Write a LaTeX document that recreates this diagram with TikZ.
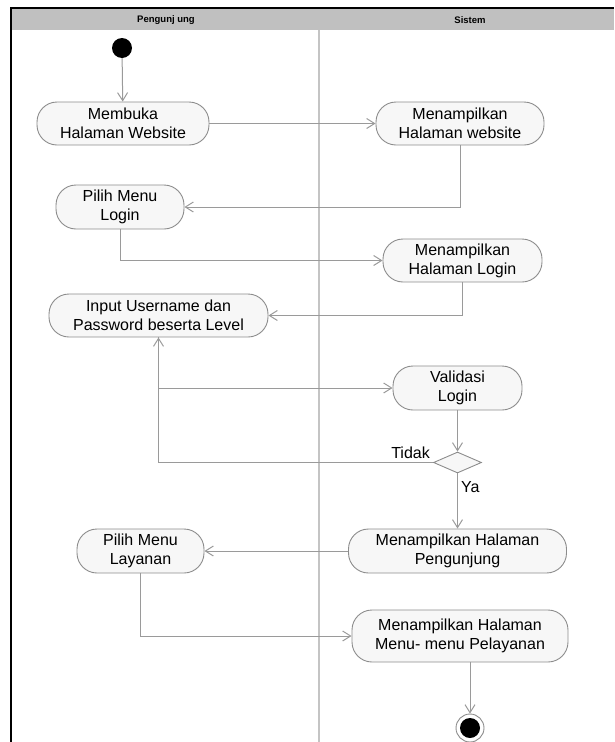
\documentclass[tikz,border=0pt]{standalone}
\usepackage{fontspec}
\setmainfont{Liberation Sans}
\usetikzlibrary{arrows.meta,shapes.geometric}
\definecolor{lanehead}{HTML}{C0C0C0}
\definecolor{edgegrey}{HTML}{9A9A9A}
\definecolor{boxline}{HTML}{8C8C8C}
\definecolor{boxfill}{HTML}{F7F7F7}
\definecolor{lanesep}{HTML}{C4C4C4}
\begin{document}
\begin{tikzpicture}[x=1pt,y=-1pt,
  act/.style={draw=boxline, fill=boxfill, line width=0.9pt, rounded corners=20pt,
    inner sep=0pt, align=center, font=\fontsize{16}{19}\selectfont},
  flow/.style={draw=edgegrey, line width=1pt, -{Straight Barb[length=8pt,width=10pt]}},
  lbl/.style={inner sep=0pt, font=\fontsize{16}{19}\selectfont},
  lanetitle/.style={inner sep=0pt, font=\fontsize{9.5}{11}\selectfont\bfseries}]
\useasboundingbox (0,0) rectangle (614,742);

% swimlane frame and headers
\fill[lanehead] (11,8) rectangle (614,30);
\draw[lanesep, line width=1.5pt] (319,30) -- (319,742);
\draw[black, line width=2.5pt] (11,742) -- (11,8) -- (614,8);
\node[lanetitle] (hpeng) at (166,20) {Pengunj ung};
\node[lanetitle] (hsis) at (470,20) {Sistem};

% activities
\node[fill=black, circle, minimum size=20pt, inner sep=0pt] (start) at (122,48) {};
\node[act, minimum width=172pt, minimum height=43pt] (mem) at (123,123.5) {Membuka\\Halaman Website};
\node[act, minimum width=168pt, minimum height=43pt] (mweb) at (460,123.5) {Menampilkan\\Halaman website};
\node[act, minimum width=128pt, minimum height=44pt] (pml) at (120,207) {Pilih Menu\\Login};
\node[act, minimum width=159pt, minimum height=43pt] (mlog) at (462.5,260.5) {Menampilkan\\Halaman Login};
\node[act, minimum width=219pt, minimum height=43pt] (inp) at (158.5,315.5) {Input Username dan\\Password beserta Level};
\node[act, minimum width=129pt, minimum height=44pt] (val) at (457.5,388) {Validasi\\Login};
\node[diamond, draw=boxline, fill=boxfill, line width=0.9pt, minimum width=48pt,
  minimum height=21pt, inner sep=0pt] (dec) at (457.5,462.5) {};
\node[act, minimum width=218pt, minimum height=44pt] (peng) at (457.5,551) {Menampilkan Halaman\\Pengunjung};
\node[act, minimum width=127pt, minimum height=44pt] (lay) at (140.5,551) {Pilih Menu\\Layanan};
\node[act, minimum width=216pt, minimum height=52pt] (menu) at (460,636) {Menampilkan Halaman\\Menu- menu Pelayanan};
\node[circle, draw=boxline, fill=white, line width=0.9pt, minimum size=28pt, inner sep=0pt] (end) at (470,728) {};
\node[circle, fill=black, minimum size=20pt, inner sep=0pt] (endin) at (end.center) {};

% guard labels
\node[lbl, anchor=east] (tidak) at (430,453) {Tidak};
\node[lbl, anchor=west] (ya) at (461,487) {Ya};

% control flow
\draw[flow] (start) -- (mem);
\draw[flow] (mem) -- (mweb);
\draw[flow] (mweb.south) |- (pml.east);
\draw[flow] (pml.south) |- (mlog.west);
\draw[flow] (mlog.south) |- (inp.east);
\draw[flow] (inp.south) |- (val.west);
\draw[flow] (val.south) -- (dec.north);
\draw[flow] (dec.west) -| (inp.south);
\draw[flow] (dec.south) -- (peng.north);
\draw[flow] (peng.west) -- (lay.east);
\draw[flow] (lay.south) |- (menu.west);
\draw[flow] (menu.south -| end) -- (end);
\end{tikzpicture}
\end{document}
